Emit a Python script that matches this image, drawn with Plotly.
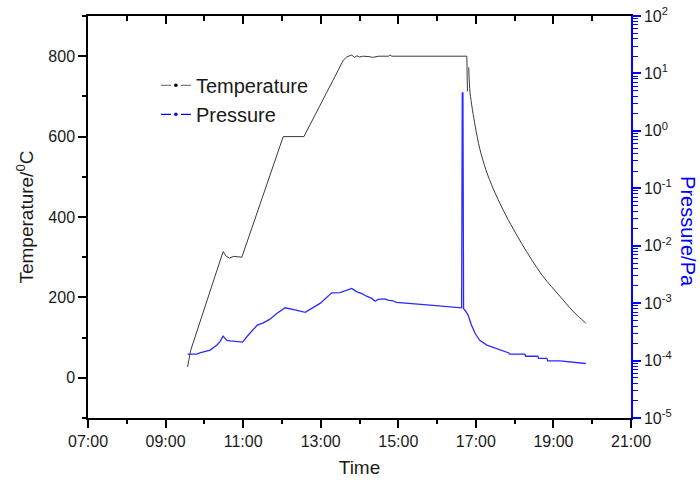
import plotly.graph_objects as go

DAY = "2000-01-01 "

# Temperature series (time of day, degC)
temp_times = ["09:34", "09:39", "10:29", "10:34", "10:39", "10:45", "10:58",
              "12:02", "12:34", "13:35", "13:40", "13:45", "13:48", "13:52",
              "13:56", "14:00", "14:05", "14:15", "14:20", "14:30", "14:45",
              "14:47", "14:50", "15:20", "16:46", "16:47", "16:49", "16:51",
              "16:59", "17:06", "17:16", "17:27", "17:42", "17:58", "18:18",
              "18:44", "19:10", "19:30", "19:50"]
temp_values = [27, 69, 314, 302, 298, 302, 300,
               600, 600, 790, 798, 800, 803, 797,
               801, 798, 800, 799, 797, 800, 800,
               803, 800, 800, 800, 713, 772, 709,
               626, 570, 515, 470, 418, 370, 315,
               252, 203, 166, 136]
cooling_start = "16:49"  # cooling part is a smooth curve

# Pressure series (time of day, Pa)
pres_times = ["09:34", "09:48", "09:53", "10:01", "10:09", "10:19", "10:24",
              "10:29", "10:35", "10:40", "10:50", "10:59", "11:10", "11:22",
              "11:31", "11:41", "11:52", "12:05", "12:20", "12:36", "12:59",
              "13:12", "13:17", "13:30", "13:37", "13:48", "13:56", "14:03",
              "14:11", "14:19", "14:24", "14:29", "14:39", "14:44", "14:52",
              "14:57", "15:49", "16:38", "16:39", "16:40", "16:41", "16:43",
              "16:48", "16:53", "16:59", "17:06", "17:17", "17:32", "17:42",
              "17:51", "17:52", "18:16", "18:17", "18:36", "18:37", "18:50",
              "18:51", "19:10", "19:50"]
pres_values = [1.29e-4, 1.29e-4, 1.36e-4, 1.42e-4, 1.52e-4, 1.85e-4, 2.12e-4,
               2.66e-4, 2.25e-4, 2.2e-4, 2.12e-4, 2.1e-4, 2.96e-4, 4.14e-4,
               4.54e-4, 5.2e-4, 6.6e-4, 8.3e-4, 7.6e-4, 6.9e-4, 9.9e-4,
               1.38e-3, 1.51e-3, 1.53e-3, 1.62e-3, 1.80e-3, 1.57e-3, 1.48e-3,
               1.32e-3, 1.21e-3, 1.08e-3, 1.16e-3, 1.19e-3, 1.13e-3, 1.10e-3,
               1.03e-3, 9.2e-4, 8.3e-4, 4.6, 4.6, 8.0e-4, 7.6e-4,
               6.2e-4, 4.2e-4, 2.96e-4, 2.26e-4, 1.86e-4, 1.62e-4, 1.48e-4,
               1.36e-4, 1.29e-4, 1.29e-4, 1.19e-4, 1.19e-4, 1.09e-4, 1.09e-4,
               9.9e-5, 9.9e-5, 8.9e-5]

x_range = ["07:00", "21:00"]
p_tick_exps = [-5, -4, -3, -2, -1, 0, 1, 2]

FONT = "Arial, Liberation Sans, sans-serif"
TEMP_COLOR = "#3a3a3a"
PRES_COLOR = "#2a2aff"

ci = temp_times.index(cooling_start)

fig = go.Figure()

fig.add_trace(go.Scatter(
    x=[DAY + t for t in temp_times[:ci]], y=temp_values[:ci], mode="lines",
    line=dict(color=TEMP_COLOR, width=1), showlegend=False, yaxis="y"))
fig.add_trace(go.Scatter(
    x=[DAY + t for t in temp_times[ci:]], y=temp_values[ci:], mode="lines",
    line=dict(color=TEMP_COLOR, width=1, shape="spline", smoothing=0.8),
    showlegend=False, yaxis="y"))
fig.add_trace(go.Scatter(
    x=[DAY + t for t in pres_times], y=pres_values, mode="lines",
    line=dict(color=PRES_COLOR, width=1.3), showlegend=False, yaxis="y2"))

# legend-only entries
fig.add_trace(go.Scatter(
    x=[None], y=[None], mode="lines+markers", name="Temperature",
    line=dict(color="#808080", width=1.2, dash="10px,10px"),
    marker=dict(color="black", size=3.5), yaxis="y"))
fig.add_trace(go.Scatter(
    x=[None], y=[None], mode="lines+markers", name="Pressure",
    line=dict(color="blue", width=1.2, dash="10px,10px"),
    marker=dict(color="blue", size=3.5), yaxis="y"))

# invisible trace to realise the top mirror axis
fig.add_trace(go.Scatter(
    x=[DAY + t for t in x_range], y=[None, None], mode="lines",
    showlegend=False, hoverinfo="skip", xaxis="x2", yaxis="y"))

xr = [DAY + t for t in x_range]
common_x = dict(type="date", range=xr, tick0=DAY + "07:00", dtick=7200000,
                showgrid=False, zeroline=False, showline=True,
                linecolor="black", linewidth=1.5, automargin=False)

fig.update_layout(
    width=700, height=480,
    margin=dict(l=88, r=69, t=16, b=62),
    paper_bgcolor="white", plot_bgcolor="white",
    font=dict(family=FONT, size=16, color="#1a1a1a"),
    xaxis=dict(**common_x, tickformat="%H:%M", ticks="outside", ticklen=8,
               tickwidth=1.5, tickcolor="black",
               minor=dict(dtick=3600000, tick0=DAY + "07:00", ticks="outside",
                          ticklen=4, tickwidth=1.5, tickcolor="black"),
               tickfont=dict(size=16),
               title=dict(text="Time", font=dict(size=19), standoff=12)),
    xaxis2=dict(**common_x, overlaying="x", side="top", anchor="y",
                ticks="inside", ticklen=8, tickwidth=1.5, tickcolor="black",
                showticklabels=False,
                minor=dict(dtick=3600000, tick0=DAY + "07:00", ticks="inside",
                           ticklen=5, tickwidth=1.5, tickcolor="black")),
    yaxis=dict(range=[-100, 900], tick0=0, dtick=200, showgrid=False,
               zeroline=False, showline=True, linecolor="black", linewidth=1.5,
               automargin=False,
               ticks="outside", ticklen=8, tickwidth=1.5, tickcolor="black",
               minor=dict(dtick=100, tick0=0, ticks="outside", ticklen=4,
                          tickwidth=1.5, tickcolor="black"),
               tickfont=dict(size=16),
               title=dict(text="Temperature/<sup>0</sup>C",
                          font=dict(size=19), standoff=10)),
    yaxis2=dict(type="log", range=[-5, 2], overlaying="y", side="right",
                anchor="x", showgrid=False, zeroline=False, showline=True,
                linecolor="blue", linewidth=1.5, automargin=False,
                tickvals=[10.0 ** e for e in p_tick_exps],
                ticktext=["10<sup>%d</sup>" % e for e in p_tick_exps],
                ticks="outside", ticklen=8, tickwidth=1.5, tickcolor="blue",
                minor=dict(ticks="outside", ticklen=5, tickwidth=1.2,
                           tickcolor="blue", dtick="D1"),
                tickfont=dict(size=16)),
    legend=dict(x=0.125, y=0.876, xanchor="left", yanchor="top",
                bgcolor="rgba(0,0,0,0)", font=dict(size=20)),
    annotations=[dict(text="Pressure/Pa", xref="paper", yref="paper",
                      x=1.105, y=0.465, xanchor="center", yanchor="middle",
                      showarrow=False, textangle=90,
                      font=dict(size=20, color="blue", family=FONT))],
)

fig.write_html("out.html")
